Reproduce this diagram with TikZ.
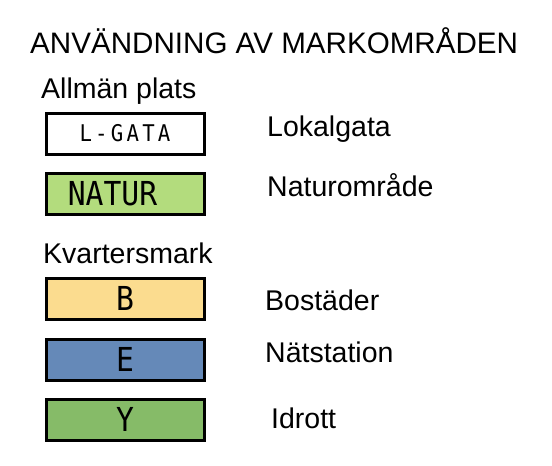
\documentclass[tikz,border=0pt]{standalone}
\usepackage{fontspec}
\setmainfont{Liberation Sans}
\newfontfamily\planfont[FakeStretch=0.9]{DejaVu Sans Mono}

\definecolor{naturgreen}{HTML}{B3DC7D}
\definecolor{bostadyellow}{HTML}{FBDC8F}
\definecolor{teknikblue}{HTML}{6589B8}
\definecolor{idrottgreen}{HTML}{86BB68}

\begin{document}
\begin{tikzpicture}[x=1pt,y=-1pt,
        zone/.style={draw=black,line width=3pt,minimum width=158pt,minimum height=41pt,
                inner sep=0pt,anchor=north west,font=\planfont\fontsize{33}{33}\selectfont},
        heading/.style={anchor=base west,inner sep=0pt,font=\fontsize{28.5}{30}\selectfont}]
        \useasboundingbox (0,0) rectangle (552,466);

        % draw the headings
        \node[heading,font=\fontsize{29.6}{30}\selectfont] (title) at (30,53) {ANVÄNDNING AV MARKOMRÅDEN};
        \node[heading] (allman) at (41,98) {Allmän plats};
        \node[heading] (kvarter) at (43,263) {Kvartersmark};

        % draw the public areas
        \node[zone,font=\planfont\fontsize{23}{23}\selectfont\addfontfeature{LetterSpace=14}] (lgata) at (44.5,111.5) {L-GATA};
        \node[zone,fill=naturgreen] (natur) at (44.5,171.5) {NATUR\kern25pt};
        \node[heading] (lgatatext) at (267,136) {Lokalgata};
        \node[heading] (naturtext) at (267,196) {Naturområde};

        % draw the building blocks
        \foreach \name/\code/\col/\y/\xtext/\yy/\xx in {
                bostad/B/bostadyellow/276.5/Bostäder/310/265,
                teknik/E/teknikblue/337.5/Nätstation/362/265,
                idrott/Y/idrottgreen/397.5/Idrott/428/271} {
                \node[zone,fill=\col] (\name) at (44.5,\y) {\code};
                \node[heading] (\name text) at (\xx,\yy) {\xtext};
        }
\end{tikzpicture}
\end{document}
